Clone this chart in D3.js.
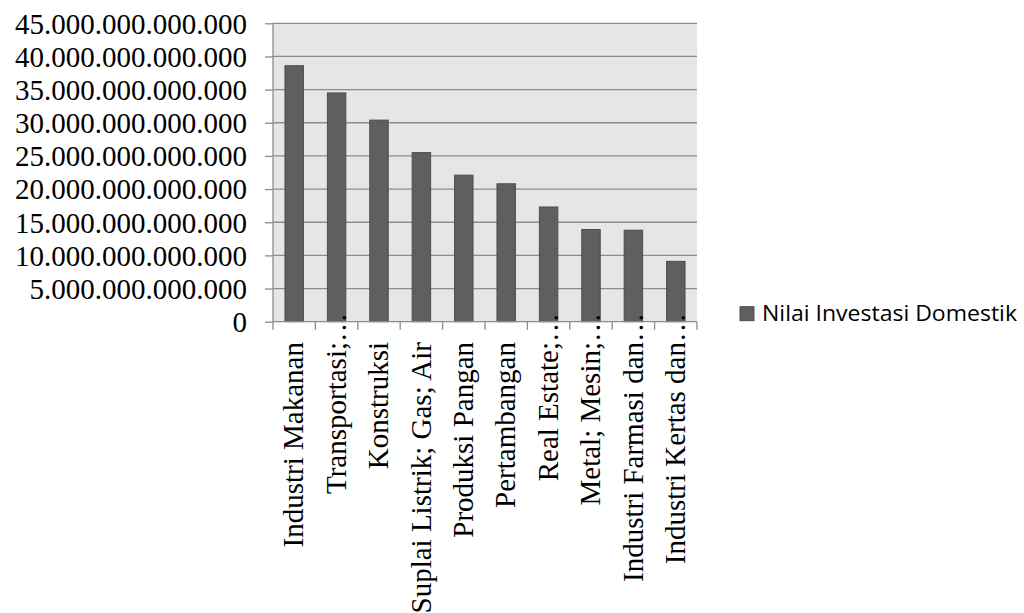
<!DOCTYPE html>
<html><head><meta charset="utf-8">
<script src="https://cdn.jsdelivr.net/npm/d3@7"></script>
<style>body{margin:0;background:#fff}svg{display:block}</style>
</head><body>
<svg id="c" width="1024" height="613"></svg>
<script>
const categories = ["Industri Makanan","Transportasi;…","Konstruksi","Suplai Listrik; Gas; Air","Produksi Pangan","Pertambangan","Real Estate;…","Metal; Mesin;…","Industri Farmasi dan…","Industri Kertas dan…"];
const values = [38.6e12,34.5e12,30.4e12,25.5e12,22.1e12,20.8e12,17.3e12,13.9e12,13.8e12,9.1e12];
const yTicks = [0,5e12,10e12,15e12,20e12,25e12,30e12,35e12,40e12,45e12];
const seriesName = "Nilai Investasi Domestik";

const svg = d3.select("#c");
const L = 273, R = 697, T = 23.3, B = 321.7;
const x = d3.scaleBand().domain(categories).range([L, R]).paddingInner(0.565).paddingOuter(0.2825);
const xb = d3.scaleBand().domain(categories).range([L, R]);
const y = d3.scaleLinear().domain([0, 45e12]).range([B, T]);
const fmt = v => v === 0 ? "0" : d3.format(",.0f")(v).replace(/,/g, ".");

svg.append("rect").attr("x", L).attr("y", T).attr("width", R - L).attr("height", B - T).attr("fill", "#e6e6e6");

svg.append("g").selectAll("line").data(yTicks.filter(d => d > 0)).join("line")
  .attr("x1", L).attr("x2", R).attr("y1", d => y(d)).attr("y2", d => y(d))
  .attr("stroke", "#8c8c8c").attr("stroke-width", 1.3);

// y axis
const ya = svg.append("g").attr("transform", `translate(${L},0)`)
  .call(d3.axisLeft(y).tickValues(yTicks).tickSize(8).tickPadding(18).tickFormat(fmt));
ya.select(".domain").attr("stroke", "#8c8c8c").attr("stroke-width", 1.3).attr("d", `M0,${T}V${B}`);
ya.selectAll(".tick line").attr("stroke", "#8c8c8c").attr("stroke-width", 1.3);
ya.selectAll(".tick text").attr("font-family", "'Liberation Serif', serif").attr("font-size", 29).attr("fill", "#000").attr("dy", "0.34em");

// bars
svg.append("g").selectAll("rect").data(values).join("rect")
  .attr("x", (d, i) => x(categories[i])).attr("width", x.bandwidth())
  .attr("y", d => y(d)).attr("height", d => B - y(d))
  .attr("fill", "#5f5f5f").attr("stroke", "#4d4d4d").attr("stroke-width", 1);

// x axis
const bounds = categories.map(c => xb(c)).concat([R]);
svg.append("line").attr("x1", L).attr("x2", R).attr("y1", B).attr("y2", B).attr("stroke", "#8c8c8c").attr("stroke-width", 1.3);
svg.append("g").selectAll("line").data(bounds).join("line")
  .attr("x1", d => d).attr("x2", d => d).attr("y1", B).attr("y2", B + 8)
  .attr("stroke", "#8c8c8c").attr("stroke-width", 1.3);

const lab = svg.append("g").attr("font-family", "'Liberation Serif', serif").attr("font-size", 29).attr("fill", "#000");
categories.forEach(c => {
  const cx = xb(c) + xb.bandwidth() / 2;
  const g = lab.append("g").attr("transform", `translate(${cx},342) rotate(-90)`);
  const parts = c.split("…");
  g.append("text").attr("text-anchor", "end").attr("dy", "0.32em").text(parts[0]);
  if (c.includes("…")) g.append("text").attr("text-anchor", "start").attr("dy", "0.32em").text("…");
});

// legend
const lg = svg.append("g");
lg.append("rect").attr("x", 740).attr("y", 306.7).attr("width", 14).attr("height", 14)
  .attr("fill", "#5f5f5f").attr("stroke", "#4d4d4d").attr("stroke-width", 1);
lg.append("text").attr("x", 762).attr("y", 320.7).attr("font-family", "'Open Sans', 'Liberation Sans', sans-serif")
  .attr("font-size", 22).attr("textLength", 255).attr("lengthAdjust", "spacingAndGlyphs").attr("fill", "#000").text(seriesName);
</script>
</body></html>
